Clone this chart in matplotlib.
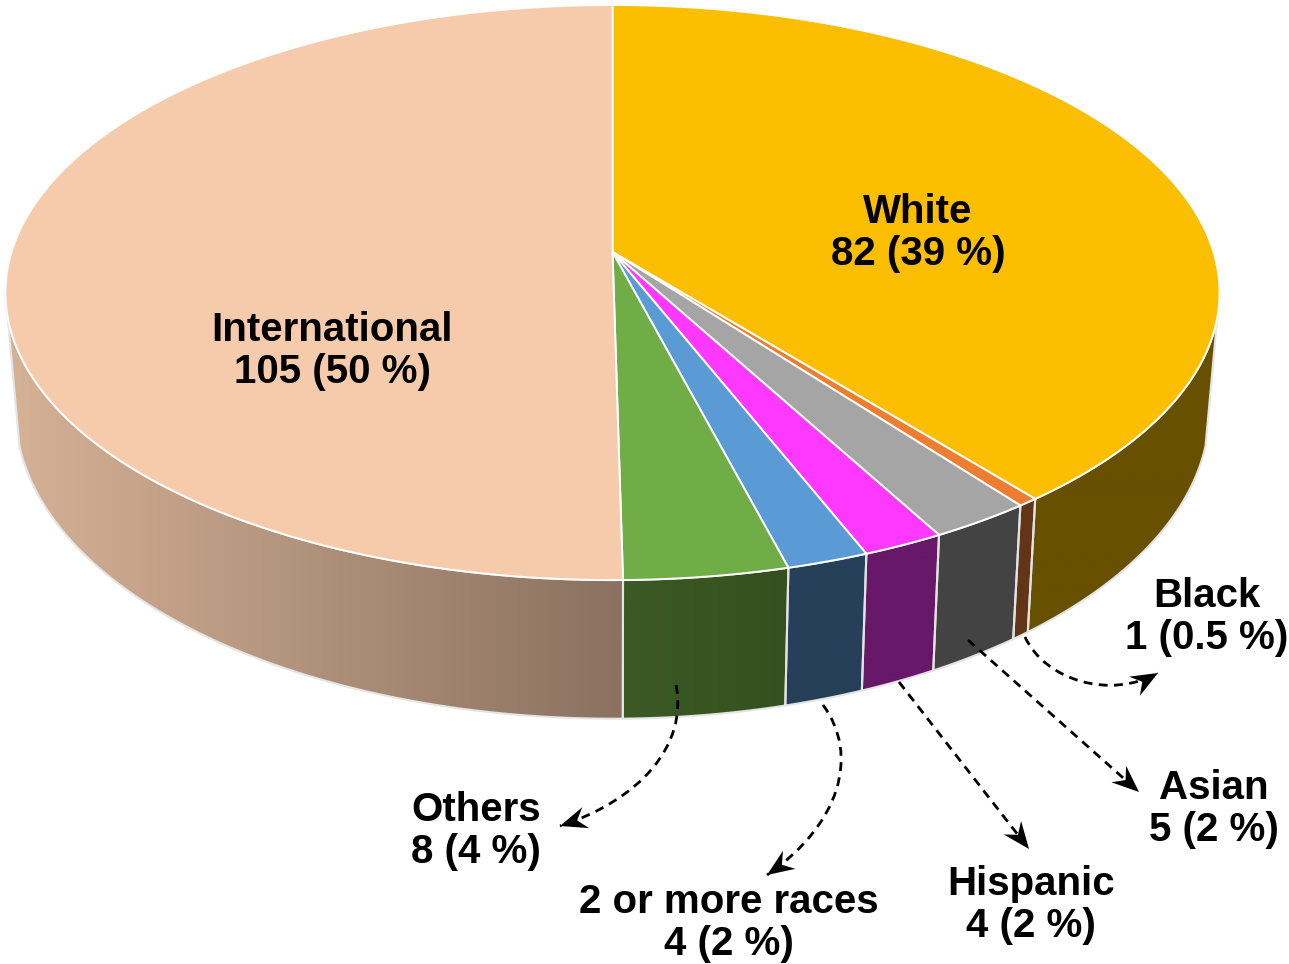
"""3D-look pie of enrolment by group, drawn with a perspective projection."""

import matplotlib
matplotlib.use("Agg")
import matplotlib.pyplot as plt
import numpy as np
from matplotlib.colors import to_rgb
from matplotlib.patches import PathPatch, Polygon
from matplotlib.path import Path

# slices, clockwise from twelve o'clock
names = ["White", "Black", "Asian", "Hispanic", "2 or more races", "Others", "International"]
counts = [82, 1, 5, 4, 4, 8, 105]
percents = ["39", "0.5", "2", "2", "2", "4", "50"]

top_colors = ["#FBBE00", "#ED7D31", "#A5A5A5", "#FF38FF", "#5B9BD5", "#70AD47", "#F5CBAC"]
side_left = ["#675000", "#633518", "#434343", "#681868", "#264059", "#3C5A25", "#D6B296"]
side_right = ["#675000", "#633518", "#434343", "#681868", "#264059", "#34501E", "#8A7160"]

label_pos = [(918, 233), (1207, 617), (1214, 809), (1031, 905), (729, 923), (476, 831), (332, 351)]

# (x, y) of start, controls, end
arrows = {
    "Black": [(1025, 637), (1045, 680), (1110, 700), (1158, 673)],
    "Asian": [(968, 640), (1139, 792)],
    "Hispanic": [(899, 682), (1029, 849)],
    "2 or more races": [(823, 705), (860, 755), (840, 825), (767, 875)],
    "Others": [(676, 685), (688, 745), (640, 800), (560, 826)],
}

# projection of the two disc planes: x half scale, y scale, perspective, apex y
TOP = (601.0, 281.8, 0.141, 252.0)
BOTTOM = (591.0, 301.6, 0.140, 368.0)
CX = 612.5


def project(theta, plane):
    a, b, k, y0 = plane
    u, v = np.sin(theta), np.cos(theta)
    w = 1 + k * v
    return np.column_stack([CX + a * u / w, y0 - b * v / w])


def draw_arrow(ax, pts):
    codes = [Path.MOVETO] + ([Path.CURVE4] * 3 if len(pts) == 4 else [Path.LINETO])
    ax.add_patch(PathPatch(Path(pts, codes), fc="none", ec="black", lw=2.0,
                           ls=(0, (3.2, 2.3)), zorder=5))
    tip = np.array(pts[-1], float)
    d = tip - np.array(pts[-2], float)
    d /= np.hypot(*d)
    n = np.array([-d[1], d[0]])
    head = [tip, tip - 27 * d + 11 * n, tip - 18 * d, tip - 27 * d - 11 * n]
    ax.add_patch(Polygon(head, closed=True, fc="black", ec="none", zorder=6))


fig = plt.figure(figsize=(12.89, 9.64), dpi=100)
ax = fig.add_axes([0, 0, 1, 1])

edges = np.cumsum([0] + counts) / sum(counts) * 2 * np.pi
# where the wall outline leaves each disc
top_limit = np.arccos(-TOP[2])
bottom_limit = np.arccos(-0.25)

# side walls
for i in range(len(counts)):
    tu0, tu1 = max(edges[i], top_limit), min(edges[i + 1], 2 * np.pi - top_limit)
    tl0, tl1 = max(edges[i], bottom_limit), min(edges[i + 1], 2 * np.pi - bottom_limit)
    if tl1 <= tl0:
        continue
    upper = project(np.linspace(tu0, tu1, 200), TOP)
    lower = project(np.linspace(tl0, tl1, 200), BOTTOM)
    outline = np.vstack([upper, lower[::-1]])
    poly = Polygon(outline, closed=True, fc="none", ec="#E4E4E4", lw=1.5, zorder=2)
    ax.add_patch(poly)
    x0, x1 = outline[:, 0].min(), outline[:, 0].max()
    y0, y1 = outline[:, 1].min(), outline[:, 1].max()
    left, right = np.array(to_rgb(side_left[i])), np.array(to_rgb(side_right[i]))
    ramp = np.linspace(0, 1, 256)[None, :, None]
    img = ax.imshow(left + (right - left) * ramp, extent=(x0, x1, y1, y0),
                    aspect="auto", zorder=1.5, interpolation="bilinear")
    img.set_clip_path(poly)

# top surface
apex = [[CX, TOP[3]]]
for i in range(len(counts)):
    rim = project(np.linspace(edges[i], edges[i + 1], 300), TOP)
    ax.add_patch(Polygon(np.vstack([apex, rim]), closed=True, fc=top_colors[i],
                         ec="white", lw=1.4, joinstyle="round", zorder=3))

for name, count, pct, (x, y) in zip(names, counts, percents, label_pos):
    ax.text(x, y, f"{name}\n{count} ({pct} %)", ha="center", va="center",
            fontsize=29, fontweight="bold", family="Liberation Sans",
            linespacing=1.12, color="black", zorder=7)

for pts in arrows.values():
    draw_arrow(ax, pts)

ax.set_xlim(0, 1289)
ax.set_ylim(964, 0)
ax.axis("off")
fig.savefig("out.png", dpi=100)
